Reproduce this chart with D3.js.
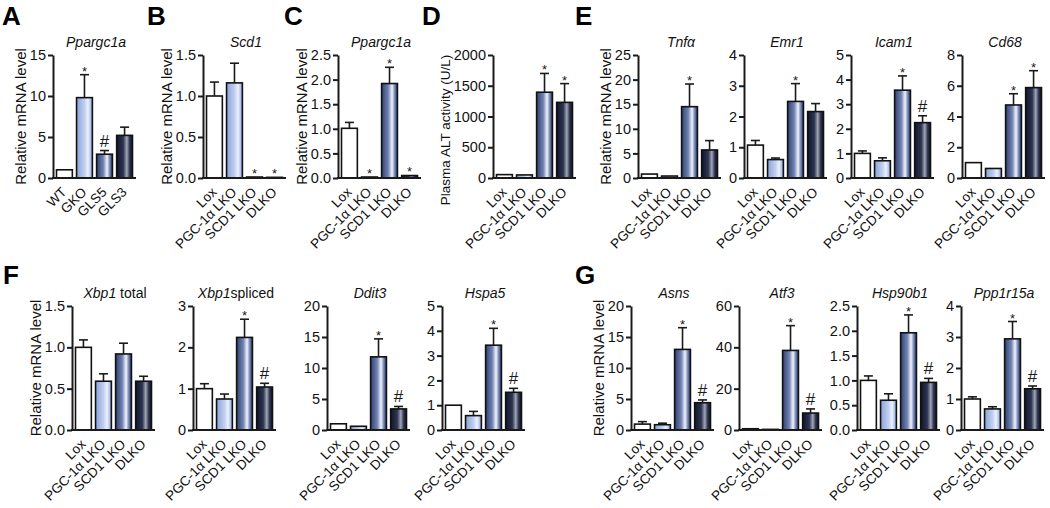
<!DOCTYPE html>
<html><head><meta charset="utf-8">
<script src="https://cdn.jsdelivr.net/npm/d3@7"></script>
<style>
body{margin:0;background:#fff}
svg{font-family:"Liberation Sans",Arial,sans-serif}
</style></head><body>
<svg id="c" width="1050" height="508"></svg>
<script>
// ---------- categories ----------
const catsA = ["WT","GKO","GLS5","GLS3"];
const catsLKO = ["Lox","PGC-1α LKO","SCD1 LKO","DLKO"];

// ---------- values (mean), errors (SEM, upward), significance marks ----------
const ppargc1aA = [1.0, 9.8, 2.9, 5.2];   const ppargc1aAErr = [0.08, 2.8, 0.45, 1.0];  const ppargc1aAMark = ["","*","#",""];
const scd1 = [1.0, 1.16, 0.012, 0.008];   const scd1Err = [0.17, 0.24, 0.004, 0.003];  const scd1Mark = ["","","*","*"];
const ppargc1aC = [1.01, 0.02, 1.92, 0.05]; const ppargc1aCErr = [0.12, 0.005, 0.33, 0.012]; const ppargc1aCMark = ["","*","*","*"];
const alt = [55, 50, 1395, 1230];         const altErr = [10, 6, 305, 305];            const altMark = ["","","*","*"];
const tnfa = [0.8, 0.4, 14.5, 5.7];       const tnfaErr = [0.15, 0.1, 4.6, 1.9];        const tnfaMark = ["","","*",""];
const emr1 = [1.07, 0.6, 2.49, 2.16];     const emr1Err = [0.15, 0.05, 0.58, 0.26];     const emr1Mark = ["","","*",""];
const icam1 = [1.0, 0.7, 3.57, 2.25];     const icam1Err = [0.1, 0.12, 0.58, 0.28];     const icam1Mark = ["","","*","#"];
const cd68 = [1.0, 0.62, 4.75, 5.88];     const cd68Err = [0.08, 0.08, 0.73, 1.1];      const cd68Mark = ["","","*","*"];
const xbp1t = [1.0, 0.59, 0.92, 0.59];    const xbp1tErr = [0.09, 0.09, 0.13, 0.06];    const xbp1tMark = ["","","",""];
const xbp1s = [1.0, 0.75, 2.24, 1.04];    const xbp1sErr = [0.12, 0.12, 0.44, 0.09];    const xbp1sMark = ["","","*","#"];
const ddit3 = [1.0, 0.6, 11.8, 3.4];      const ddit3Err = [0.08, 0.1, 2.9, 0.4];       const ddit3Mark = ["","","*","#"];
const hspa5 = [1.0, 0.58, 3.42, 1.52];    const hspa5Err = [0.05, 0.17, 0.68, 0.16];    const hspa5Mark = ["","","*","#"];
const asns = [0.95, 0.85, 13.0, 4.4];     const asnsErr = [0.4, 0.25, 3.5, 0.45];       const asnsMark = ["","","*","#"];
const atf3 = [0.6, 0.3, 38.5, 8.2];       const atf3Err = [0.3, 0.1, 12.0, 2.0];        const atf3Mark = ["","","*","#"];
const hsp90b1 = [1.0, 0.6, 1.96, 0.96];   const hsp90b1Err = [0.09, 0.13, 0.36, 0.08];  const hsp90b1Mark = ["","","*","#"];
const ppp1r15a = [1.0, 0.68, 2.94, 1.33]; const ppp1r15aErr = [0.07, 0.07, 0.56, 0.09]; const ppp1r15aMark = ["","","*","#"];

// ---------- tick labels ----------
const ticksA = [0,5,10,15];
const ticksScd1 = [0,0.5,1.0,1.5];
const ticksC = [0,0.5,1.0,1.5,2.0,2.5];
const ticksAlt = [0,500,1000,1500,2000];
const ticksTnfa = [0,5,10,15,20,25];
const ticksEmr1 = [0,1,2,3,4];
const ticksIcam1 = [0,1,2,3,4,5];
const ticksCd68 = [0,2,4,6,8];
const ticksXbp1t = [0,0.5,1.0,1.5];
const ticksXbp1s = [0,1,2,3];
const ticksDdit3 = [0,5,10,15,20];
const ticksHspa5 = [0,1,2,3,4,5];
const ticksAsns = [0,5,10,15,20];
const ticksAtf3 = [0,20,40,60];
const ticksHsp90b1 = [0,0.5,1.0,1.5,2.0,2.5];
const ticksPpp1r15a = [0,1,2,3,4];

const YLAB = "Relative mRNA level";

// ---------- panel definitions (data + layout) ----------
const rows = [{y0:178, y1:55}, {y0:430, y1:306}];
const panels = [
 {ax:53,  row:0, cats:catsA,  v:ppargc1aA, e:ppargc1aAErr, m:ppargc1aAMark, t:ticksA, fmt:"d", title:[["Ppargc1a",1]], ylab:YLAB},
 {ax:203, row:0, cats:catsLKO, v:scd1, e:scd1Err, m:scd1Mark, t:ticksScd1, fmt:".1f", title:[["Scd1",1]], ylab:YLAB},
 {ax:338, row:0, cats:catsLKO, v:ppargc1aC, e:ppargc1aCErr, m:ppargc1aCMark, t:ticksC, fmt:".1f", title:[["Ppargc1a",1]], ylab:YLAB},
 {ax:493, row:0, cats:catsLKO, v:alt, e:altErr, m:altMark, t:ticksAlt, fmt:"d", title:[], ylab:"Plasma ALT activity (U/L)", ylabSize:13.5, ylabCy:130},
 {ax:638, row:0, cats:catsLKO, v:tnfa, e:tnfaErr, m:tnfaMark, t:ticksTnfa, fmt:"d", title:[["Tnfα",1]], ylab:YLAB},
 {ax:744, row:0, cats:catsLKO, v:emr1, e:emr1Err, m:emr1Mark, t:ticksEmr1, fmt:"d", title:[["Emr1",1]]},
 {ax:851, row:0, cats:catsLKO, v:icam1, e:icam1Err, m:icam1Mark, t:ticksIcam1, fmt:"d", title:[["Icam1",1]]},
 {ax:962, row:0, cats:catsLKO, v:cd68, e:cd68Err, m:cd68Mark, t:ticksCd68, fmt:"d", title:[["Cd68",1]]},
 {ax:72,  row:1, cats:catsLKO, v:xbp1t, e:xbp1tErr, m:xbp1tMark, t:ticksXbp1t, fmt:".1f", title:[["Xbp1",1],[" total",0]], ylab:YLAB},
 {ax:193, row:1, cats:catsLKO, v:xbp1s, e:xbp1sErr, m:xbp1sMark, t:ticksXbp1s, fmt:"d", title:[["Xbp1",1],["spliced",0]]},
 {ax:327, row:1, cats:catsLKO, v:ddit3, e:ddit3Err, m:ddit3Mark, t:ticksDdit3, fmt:"d", title:[["Ddit3",1]]},
 {ax:442, row:1, cats:catsLKO, v:hspa5, e:hspa5Err, m:hspa5Mark, t:ticksHspa5, fmt:"d", title:[["Hspa5",1]]},
 {ax:631, row:1, cats:catsLKO, v:asns, e:asnsErr, m:asnsMark, t:ticksAsns, fmt:"d", title:[["Asns",1]], ylab:YLAB},
 {ax:739, row:1, cats:catsLKO, v:atf3, e:atf3Err, m:atf3Mark, t:ticksAtf3, fmt:"d", title:[["Atf3",1]]},
 {ax:857, row:1, cats:catsLKO, v:hsp90b1, e:hsp90b1Err, m:hsp90b1Mark, t:ticksHsp90b1, fmt:".1f", title:[["Hsp90b1",1]]},
 {ax:961, row:1, cats:catsLKO, v:ppp1r15a, e:ppp1r15aErr, m:ppp1r15aMark, t:ticksPpp1r15a, fmt:"d", title:[["Ppp1r15a",1]]}
];
const letters = [["A",2,25],["B",147,25],["C",284,25],["D",422,25],["E",575,25],["F",3,284],["G",575,284]];

// ---------- drawing ----------
const svg = d3.select("#c");
const defs = svg.append("defs");
const grads = {
  white:[[0,"#ffffff"],[1,"#ffffff"]],
  light:[[0,"#8ba3da"],[0.5,"#c0cff0"],[0.72,"#edf1fb"],[0.9,"#adc0ea"],[1,"#8aa2d9"]],
  mid:[[0,"#33416e"],[0.42,"#6f82b3"],[0.66,"#f2f4fa"],[0.84,"#6d80b2"],[1,"#2c3864"]],
  dark:[[0,"#11152a"],[0.42,"#2d3552"],[0.64,"#a3a7b4"],[0.82,"#2d3552"],[1,"#0f1220"]]
};
Object.entries(grads).forEach(([k,stops])=>{
  const g = defs.append("linearGradient").attr("id","g_"+k).attr("x1","0").attr("x2","1").attr("y1","0").attr("y2","0");
  stops.forEach(s=>g.append("stop").attr("offset",s[0]).attr("stop-color",s[1]));
});
const fillKeys = ["white","light","mid","dark"];
const INK = "#1a1a1a";

panels.forEach(p=>{
  const r = rows[p.row];
  const g = svg.append("g");
  const x = d3.scaleBand().domain(p.cats).range([p.ax+1.5, p.ax+81.5]).paddingInner(0.21).paddingOuter(0.1);
  const ymax = p.t[p.t.length-1];
  const y = d3.scaleLinear().domain([0,ymax]).range([r.y0, r.y1]);

  p.cats.forEach((c,i)=>{
    const bx = x(c), bw = x.bandwidth();
    const top = y(p.v[i]);
    g.append("rect").attr("x",bx).attr("y",top).attr("width",bw).attr("height",Math.max(r.y0-top,0.8))
      .attr("fill","url(#g_"+fillKeys[i]+")").attr("stroke","#111").attr("stroke-width",1.6);
    const cx = bx + bw/2, et = y(p.v[i]+p.e[i]);
    if (p.e[i] > 0 && top - et > 1.5) {
      g.append("line").attr("x1",cx).attr("x2",cx).attr("y1",top).attr("y2",et).attr("stroke",INK).attr("stroke-width",1.6);
      g.append("line").attr("x1",cx-4.5).attr("x2",cx+4.5).attr("y1",et).attr("y2",et).attr("stroke",INK).attr("stroke-width",1.6);
    }
    if (p.m[i]) {
      const star = p.m[i] === "*";
      const base = Math.min(et, top) - 1;
      g.append("text").attr("x",cx).attr("y", star ? base + 2 : base - 3)
        .attr("text-anchor","middle").attr("font-size", star ? 13 : 17).attr("fill",INK)
        .text(p.m[i]);
    }
    g.append("text").attr("transform",`translate(${cx+3},${r.y0+15}) rotate(-45)`)
      .attr("text-anchor","end").attr("font-size",13.5).attr("fill","#111").text(c);
  });

  const yAxis = d3.axisLeft(y).tickValues(p.t).tickSize(5).tickSizeOuter(0).tickPadding(2)
     .tickFormat(d3.format(p.fmt));
  const ag = g.append("g").attr("transform",`translate(${p.ax},0)`).call(yAxis);
  ag.select(".domain").attr("stroke",INK).attr("stroke-width",2);
  ag.selectAll(".tick line").attr("stroke",INK).attr("stroke-width",2);
  ag.selectAll(".tick text").attr("font-size",14.5).attr("fill","#111").attr("font-family","Liberation Sans, Arial, sans-serif");
  g.append("line").attr("x1",p.ax-1).attr("x2",p.ax+83).attr("y1",r.y0).attr("y2",r.y0).attr("stroke",INK).attr("stroke-width",2);

  if (p.title.length){
    const tt = g.append("text").attr("x",p.ax+43).attr("y",r.y1-8).attr("text-anchor","middle").attr("font-size",p.tsize||14).attr("fill","#111");
    p.title.forEach(s=>tt.append("tspan").attr("font-style",s[1]?"italic":"normal").text(s[0]));
  }
  if (p.ylab){
    const bb = ag.node().getBBox();
    const lx = p.ax + bb.x - 4;
    const cy = p.ylabCy || (r.y0 + r.y1)/2;
    g.append("text").attr("transform",`translate(${lx},${cy}) rotate(-90)`).attr("text-anchor","middle")
      .attr("font-size",p.ylabSize||15).attr("fill","#111").text(p.ylab);
  }
});

letters.forEach(l=>{
  svg.append("text").attr("x",l[1]).attr("y",l[2]).attr("font-size",26).attr("font-weight","bold").attr("fill","#000").text(l[0]);
});
</script>
</body></html>
